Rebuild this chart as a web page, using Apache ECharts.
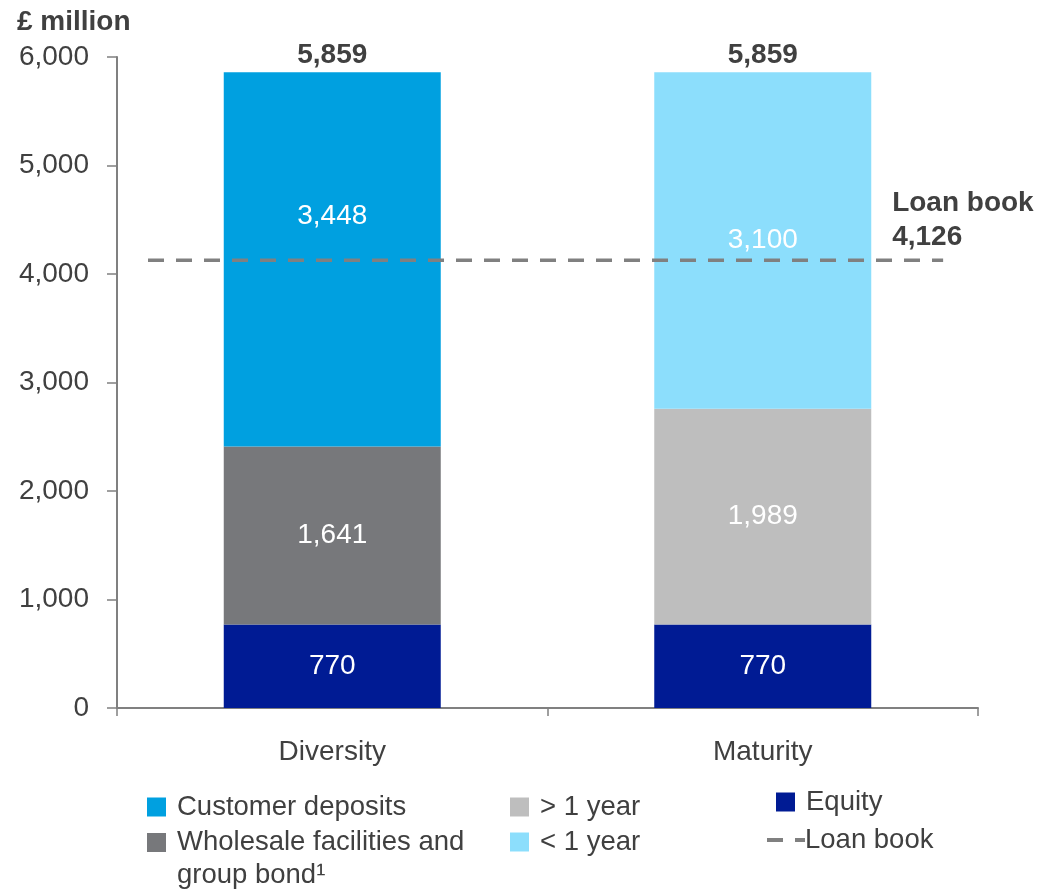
<!DOCTYPE html>
<html>
<head>
<meta charset="utf-8">
<script src="https://cdn.jsdelivr.net/npm/echarts@6/dist/echarts.min.js"></script>
<style>
html,body{margin:0;padding:0;background:#fff;}
#main{width:1044px;height:891px;}
</style>
</head>
<body>
<div id="main"></div>
<script>
var categories = ['Diversity', 'Maturity'];
var equity = [770, 770];
var wholesale = [1641, '-'];
var overOneYear = ['-', 1989];
var customerDeposits = [3448, '-'];
var underOneYear = ['-', 3100];
var totals = [5859, 5859];
var loanBook = 4126;
var loanLineX = [0.072, 1.919];
var yTicks = [0, 1000, 2000, 3000, 4000, 5000, 6000];

var FONT = 'Liberation Sans, Arial, sans-serif';
var TXT = '#404040';
var C_CUST = '#00A0E0', C_WHOLE = '#77787B', C_OVER = '#BEBEBE', C_UNDER = '#8CDEFC', C_EQ = '#001B94', C_LOAN = '#808080';

function fmt(v){ return String(v).replace(/\B(?=(\d{3})+(?!\d))/g, ','); }

var inLabel = {show:true, position:'inside', color:'#fff', fontFamily:FONT, fontSize:28,
  formatter:function(p){ return fmt(p.value); }};

var LFS = 27.5;

function legendItem(name, left, top, extra){
  var l = {
    show:true, left:left, top:top, padding:0, orient:'vertical',
    itemWidth:19, itemHeight:19, icon:'rect',
    selectedMode:false,
    textStyle:{fontFamily:FONT, fontSize:LFS, color:TXT, lineHeight:30, padding:[0,0,0,6]},
    data:[name]
  };
  if (extra) for (var k in extra) l[k] = extra[k];
  return l;
}

var chart = echarts.init(document.getElementById('main'));
chart.setOption({
  animation:false,
  backgroundColor:'#fff',
  textStyle:{fontFamily:FONT},
  title:{text:'£ million', left:17, top:8, padding:0,
    textStyle:{fontFamily:FONT, fontSize:28, fontWeight:'bold', color:TXT}},
  grid:{left:117, right:66, top:57, bottom:183, containLabel:false},
  legend:[
    legendItem('Customer deposits', 147, 792),
    legendItem('Wholesale facilities and\ngroup bond¹', 147, 793, {
      textStyle:{fontFamily:FONT, fontSize:LFS, color:TXT, lineHeight:33, padding:[0,0,0,6]},
      formatter:function(n){ return ' \n' + n; }
    }),
    legendItem('> 1 year', 510, 792),
    legendItem('< 1 year', 510, 827),
    legendItem('Equity', 776, 787),
    {show:true, left:767, top:825, padding:0, selectedMode:false,
     itemWidth:38, itemHeight:4,
     textStyle:{fontFamily:FONT, fontSize:LFS, color:TXT, lineHeight:30, padding:[0,0,0,-5]},
     data:[{name:'Loan book', icon:'path://M0,0H16V4H0Z M28,0H38V4H28Z', itemStyle:{color:C_LOAN}}]}
  ],
  xAxis:[{
    type:'category', data:categories, gridIndex:0,
    axisLine:{show:true, lineStyle:{color:'#808080', width:2}},
    axisTick:{show:true, length:8, lineStyle:{color:'#808080', width:1.5}},
    axisLabel:{fontFamily:FONT, fontSize:28, color:TXT, margin:30}
  },{
    type:'value', min:0, max:2, show:false, gridIndex:0
  }],
  yAxis:{
    type:'value', min:0, max:6000, interval:1000,
    axisLine:{show:true, lineStyle:{color:'#808080', width:2}},
    axisTick:{show:true, length:10, inside:false, lineStyle:{color:'#808080', width:1.5}},
    splitLine:{show:false},
    axisLabel:{fontFamily:FONT, fontSize:28, color:TXT, margin:28,
      formatter:function(v){ return fmt(v); }}
  },
  series:[
    {name:'Equity', type:'bar', stack:'s', barWidth:217, data:equity,
      itemStyle:{color:C_EQ}, label:inLabel},
    {name:'Wholesale facilities and\ngroup bond¹', type:'bar', stack:'s', data:wholesale,
      itemStyle:{color:C_WHOLE}, label:inLabel},
    {name:'> 1 year', type:'bar', stack:'s', data:overOneYear,
      itemStyle:{color:C_OVER}, label:inLabel},
    {name:'Customer deposits', type:'bar', stack:'s',
      data:customerDeposits.map(function(v,i){
        return i === 0 ? {value:v, label:{offset:[0,-43]}} : v;
      }),
      itemStyle:{color:C_CUST}, label:inLabel},
    {name:'< 1 year', type:'bar', stack:'s', data:underOneYear,
      itemStyle:{color:C_UNDER}, label:inLabel},
    {name:'Total', type:'bar', stack:'s', data:totals.map(function(){return 0;}),
      itemStyle:{color:'transparent'},
      label:{show:true, position:'top', distance:3, color:TXT, fontFamily:FONT,
        fontSize:28, fontWeight:'bold',
        formatter:function(p){ return fmt(totals[p.dataIndex]); }}},
    {name:'Loan book', type:'line', xAxisIndex:1, yAxisIndex:0,
      data:loanLineX.map(function(x){ return [x, loanBook]; }),
      symbol:'none', silent:true,
      lineStyle:{color:C_LOAN, width:3.5, type:[16,12]}, z:5},
    {name:'Loan label', type:'scatter', xAxisIndex:1, yAxisIndex:0,
      data:[[loanLineX[1], loanBook]], symbolSize:0, silent:true,
      itemStyle:{opacity:1},
      label:{show:true, position:'top', distance:0, align:'left', verticalAlign:'bottom',
        offset:[-51,-6], color:TXT, fontFamily:FONT, fontSize:28, fontWeight:'bold', lineHeight:34,
        formatter:function(){ return 'Loan book\n' + fmt(loanBook); }}}
  ]
});
</script>
</body>
</html>
